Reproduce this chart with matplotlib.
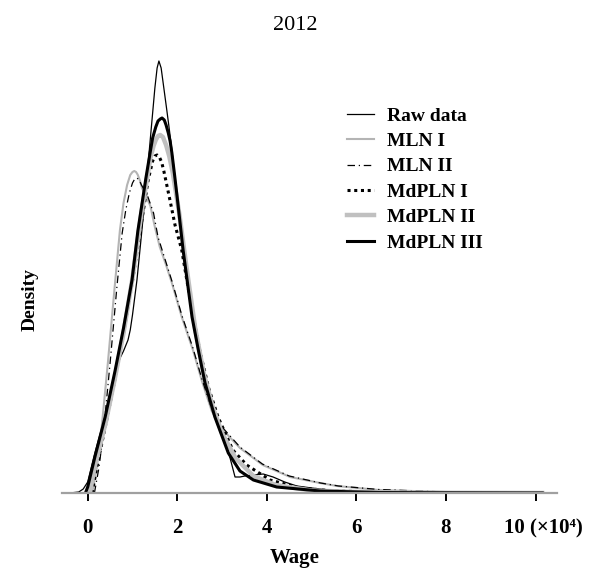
import matplotlib
matplotlib.use("Agg")
import matplotlib.pyplot as plt
from matplotlib.transforms import ScaledTranslation

plt.rcParams['font.family'] = ['Liberation Serif', 'DejaVu Serif']

# density curves (wage in 10^4)
raw_x = [-0.4, -0.2, -0.1, 0.0, 0.16, 0.32, 0.5, 0.6, 0.68, 0.8, 0.9, 0.95, 1.0, 1.1, 1.2, 1.3, 1.4, 1.5,
         1.55, 1.59, 1.64, 1.7, 1.76, 1.81, 1.88, 2.0, 2.13, 2.33, 2.47, 2.62, 2.84, 3.07, 3.15, 3.29, 3.4,
         3.51, 3.7, 3.92, 4.14, 4.4, 4.67, 5.0, 5.4, 6.0, 7.0, 8.0, 9.0, 10.1]
raw_y = [0.0, 0.001, 0.004, 0.011, 0.040, 0.066, 0.096, 0.118, 0.131, 0.142, 0.153, 0.163, 0.178, 0.213,
         0.258, 0.305, 0.355, 0.405, 0.425, 0.432, 0.425, 0.405, 0.385, 0.368, 0.343, 0.295, 0.243, 0.176,
         0.143, 0.110, 0.076, 0.048, 0.040, 0.016, 0.016, 0.017, 0.018, 0.019, 0.016, 0.011, 0.007, 0.005,
         0.003, 0.002, 0.001, 0.0005, 0.0003, 0.0]

mln1_x = [0.1, 0.2, 0.3, 0.45, 0.6, 0.72, 0.8, 0.88, 0.95, 1.0, 1.04, 1.08, 1.12, 1.17, 1.21, 1.3, 1.4,
          1.5, 1.61, 1.75, 1.88, 2.1, 2.35, 2.55, 2.77, 3.0, 3.4, 3.91, 4.52, 5.19, 5.57, 6.5, 8.0, 9.0,
          10.15]
mln1_y = [0.0, 0.025, 0.060, 0.130, 0.205, 0.263, 0.290, 0.308, 0.318, 0.321, 0.322, 0.321, 0.318, 0.312,
          0.305, 0.297, 0.287, 0.266, 0.246, 0.228, 0.210, 0.176, 0.143, 0.112, 0.082, 0.064, 0.045, 0.028,
          0.016, 0.010, 0.007, 0.003, 0.001, 0.0005, 0.0]

mln2_x = [0.15, 0.25, 0.35, 0.5, 0.65, 0.77, 0.85, 0.93, 1.0, 1.05, 1.1, 1.15, 1.2, 1.33, 1.47, 1.57,
          1.88, 2.1, 2.35, 2.55, 2.77, 3.0, 3.4, 3.9, 4.5, 5.2, 5.6, 6.5, 8.0, 9.0, 10.15]
mln2_y = [0.0, 0.025, 0.060, 0.130, 0.205, 0.260, 0.283, 0.300, 0.310, 0.314, 0.315, 0.313, 0.308, 0.298,
          0.280, 0.256, 0.212, 0.178, 0.145, 0.114, 0.084, 0.066, 0.046, 0.029, 0.017, 0.010, 0.007,
          0.0035, 0.001, 0.0005, 0.0]

md1_x = [0.1, 0.2, 0.4, 0.6, 0.8, 1.0, 1.2, 1.35, 1.45, 1.5, 1.55, 1.6, 1.65, 1.7, 1.78, 1.85, 1.95,
         2.1, 2.3, 2.5, 2.7, 2.91, 3.24, 3.55, 4.07, 4.74, 5.5, 7.0, 10.15]
md1_y = [0.0, 0.025, 0.068, 0.112, 0.160, 0.212, 0.270, 0.313, 0.332, 0.337, 0.338, 0.336, 0.331, 0.322,
         0.305, 0.290, 0.268, 0.243, 0.190, 0.143, 0.105, 0.076, 0.043, 0.028, 0.013, 0.005, 0.002,
         0.0005, 0.0]

md2_x = [0.05, 0.15, 0.4, 0.6, 0.8, 1.0, 1.2, 1.4, 1.47, 1.52, 1.57, 1.62, 1.68, 1.75, 1.82, 1.9, 2.05,
         2.2, 2.4, 2.6, 2.8, 3.0, 3.3, 3.7, 4.2, 5.0, 6.0, 8.0, 10.15]
md2_y = [0.0, 0.025, 0.070, 0.113, 0.160, 0.215, 0.280, 0.335, 0.347, 0.353, 0.357, 0.358, 0.356, 0.348,
         0.337, 0.320, 0.278, 0.228, 0.165, 0.118, 0.085, 0.060, 0.035, 0.017, 0.008, 0.0025, 0.001,
         0.0002, 0.0]

md3_x = [-0.05, 0.0, 0.16, 0.39, 0.61, 0.8, 0.99, 1.12, 1.3, 1.4, 1.45, 1.52, 1.57, 1.62, 1.66, 1.71,
         1.75, 1.8, 1.84, 1.88, 1.94, 2.0, 2.13, 2.33, 2.47, 2.62, 2.84, 3.14, 3.4, 3.7, 4.22, 5.19, 6.5,
         8.0, 10.15]
md3_y = [0.0, 0.006, 0.036, 0.076, 0.122, 0.165, 0.213, 0.262, 0.315, 0.342, 0.355, 0.366, 0.372, 0.374,
         0.375, 0.373, 0.368, 0.360, 0.352, 0.340, 0.318, 0.295, 0.243, 0.176, 0.143, 0.110, 0.076, 0.040,
         0.022, 0.013, 0.006, 0.002, 0.0005, 0.0002, 0.0]

xticks = [0, 2, 4, 6, 8, 10]
xtick_labels = ['0', '2', '4', '6', '8', '10 (\u00d710\u2074)']

fig = plt.figure(figsize=(5.9, 5.74), dpi=100)
ax = fig.add_axes([62 / 590, 81 / 574, 495 / 590, 453 / 574])

ax.plot(raw_x, raw_y, color='black', lw=0.9, label='Raw data')
ax.plot(mln1_x, mln1_y, color='#b4b4b4', lw=1.5, label='MLN I')
ax.plot(mln2_x, mln2_y, color='black', lw=0.9, linestyle=(0, (6, 3, 1, 3)), label='MLN II')
ax.plot(md1_x, md1_y, color='black', lw=2.2, linestyle=(0, (1, 1.2)), label='MdPLN I')
ax.plot(md2_x, md2_y, color='#c0c0c0', lw=3.2, label='MdPLN II')
ax.plot(md3_x, md3_y, color='black', lw=2.2, label='MdPLN III')

ax.set_xlim(-0.574, 10.48)
ax.set_ylim(0, 0.453)
for s in ['left', 'right', 'top']:
    ax.spines[s].set_visible(False)
ax.spines['bottom'].set_color('#a0a0a0')
ax.spines['bottom'].set_linewidth(1.6)
ax.set_yticks([])
ax.set_xticks(xticks)
ax.set_xticklabels(xtick_labels, fontweight='bold', fontsize=15)
ax.tick_params(axis='x', direction='out', length=6, width=1.4, color='black', pad=12)
last = ax.get_xticklabels()[-1]
last.set_transform(last.get_transform() + ScaledTranslation(8 / 100, 0, fig.dpi_scale_trans))

fig.text(295 / 590, 1 - 558 / 574, 'Wage', ha='center', va='center', fontsize=15, fontweight='bold')
fig.text(30 / 590, 1 - 300 / 574, 'Density', ha='center', va='center', rotation=90,
         fontsize=14, fontweight='bold')
fig.text(295 / 590, 1 - 26 / 574, '2012', ha='center', va='center', fontsize=16)

ax.legend(loc='upper left', bbox_to_anchor=(347 / 590, 1 - 107 / 574), bbox_transform=fig.transFigure,
          frameon=False, borderpad=0, borderaxespad=0, handlelength=1.4, handletextpad=0.67,
          labelspacing=0.40, prop={'weight': 'bold', 'size': 14})

fig.savefig('out.png', dpi=100)
